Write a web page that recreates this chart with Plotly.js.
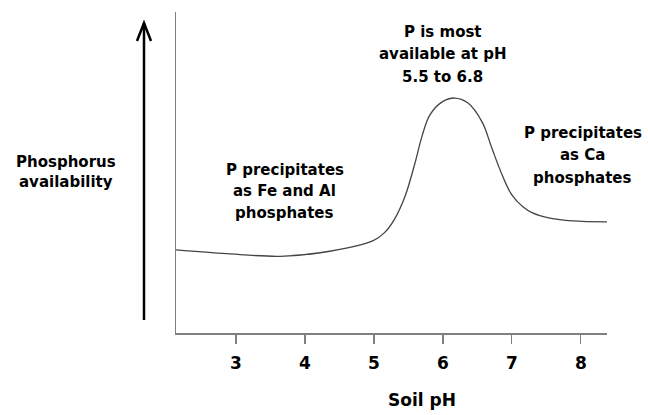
<!DOCTYPE html>
<html>
<head>
<meta charset="utf-8">
<script src="https://cdn.plot.ly/plotly-3.0.1.min.js"></script>
<style>html,body{margin:0;padding:0;background:#fff}#chart{width:648px;height:415px}</style>
</head>
<body>
<div id="chart"></div>
<script>
// Soil pH (x) and relative phosphorus availability (y, arbitrary units)
var soilPH = [2.13, 2.87, 3.64, 4.22, 4.99, 5.15, 5.30, 5.45, 5.59, 5.70, 5.81, 5.99, 6.17, 6.36, 6.57, 6.71, 6.86, 7.00, 7.16, 7.30, 7.55, 7.88, 8.38];
var availability = [2.59, 2.47, 2.39, 2.50, 2.88, 3.12, 3.55, 4.25, 5.25, 6.15, 6.79, 7.20, 7.32, 7.17, 6.57, 5.76, 4.92, 4.30, 3.93, 3.74, 3.58, 3.49, 3.46];
var tickValues = [3, 4, 5, 6, 7, 8];
var tickLabels = ["3", "4", "5", "6", "7", "8"];
var xTitle = "Soil pH";
var yTitleLines = ["Phosphorus", "availability"];
var noteLeftLines = ["P precipitates", "as Fe and Al", "phosphates"];
var notePeakLines = ["P is most", "available at pH", "5.5 to 6.8"];
var noteRightLines = ["P precipitates", "as Ca", "phosphates"];

var FONT = "DejaVu Sans, Verdana, sans-serif";
var trace = {
  x: soilPH, y: availability, type: "scatter", mode: "lines",
  line: {color: "#444", width: 1.3, shape: "spline", smoothing: 1},
  hoverinfo: "skip"
};
var annotations = [];
function block(lines, x, yTop, step, xref, size) {
  lines.forEach(function (t, i) {
    annotations.push({text: t, x: x, y: yTop - i * step, xref: xref, yref: "y", showarrow: false,
      xanchor: "center", yanchor: "middle", align: "center",
      font: {family: FONT, size: size, color: "#000", weight: "bold"}});
  });
}
block(noteLeftLines, 3.71, 5.08, 0.67, "x", 15);
block(notePeakLines, 6.0, 9.38, 0.70, "x", 15);
block(noteRightLines, 8.03, 6.23, 0.70, "x", 15);
block(yTitleLines, -0.2552, 5.33, 0.63, "paper", 15);
annotations.push({text: xTitle, x: 5.70, y: -0.209, xref: "x", yref: "paper", showarrow: false,
  xanchor: "center", yanchor: "middle",
  font: {family: FONT, size: 17, color: "#000", weight: "bold"}});

var layout = {
  width: 648, height: 415,
  margin: {l: 176, r: 41, t: 12, b: 82},
  paper_bgcolor: "#fff", plot_bgcolor: "#fff",
  showlegend: false,
  xaxis: {range: [2.13, 8.38], tickvals: tickValues, ticktext: tickLabels,
    showline: true, linecolor: "#808080", linewidth: 1.5, showgrid: false, zeroline: false,
    ticks: "outside", ticklen: 9, tickcolor: "#808080", tickwidth: 1.3, ticklabelstandoff: 5,
    tickfont: {family: FONT, size: 17, color: "#000", weight: "bold"}},
  yaxis: {range: [0, 10], showline: true, linecolor: "#808080", linewidth: 1.5,
    showgrid: false, zeroline: false, showticklabels: false, ticks: ""},
  annotations: annotations,
  shapes: [
    {type: "line", xref: "paper", yref: "paper", x0: -0.07425, y0: 0.0405, x1: -0.07425, y1: 0.9657,
     line: {color: "#000", width: 2.5}},
    {type: "path", xref: "paper", yref: "paper",
     path: "M -0.0905 0.9097 L -0.07425 0.9657 L -0.0580 0.9097",
     line: {color: "#000", width: 2.5}}
  ]
};
Plotly.newPlot("chart", [trace], layout, {staticPlot: true, displayModeBar: false});
</script>
</body>
</html>
